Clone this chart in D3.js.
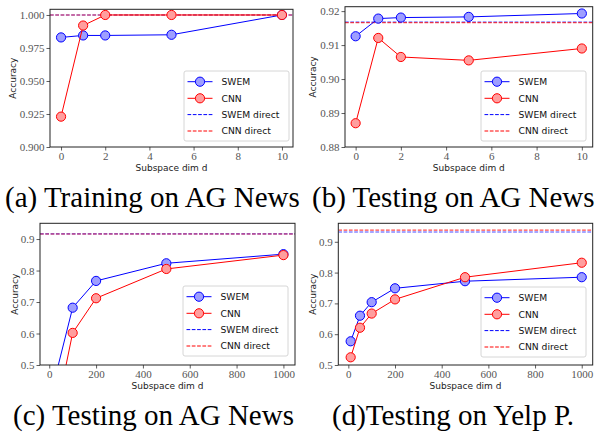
<!DOCTYPE html>
<html><head><meta charset="utf-8">
<script src="https://cdn.jsdelivr.net/npm/d3@7"></script>
<style>body{margin:0;background:#fff}svg{display:block}
.serif{font-family:"Liberation Serif","Times New Roman",Times,serif}
.sans{font-family:"DejaVu Sans",sans-serif}
</style>
</head><body>
<svg id="c" width="595" height="437"></svg>
<script>
// ---- data ----
const dimsAB = [0, 1, 2, 5, 10];
const swemA = [0.983, 0.9845, 0.9845, 0.985, 1.0];
const cnnA = [0.923, 0.992, 1.0, 1.0, 1.0];
const swemDirectA = 1.0, cnnDirectA = 1.0;

const swemB = [0.9126, 0.9178, 0.9181, 0.9183, 0.9193];
const cnnB = [0.887, 0.9121, 0.9065, 0.9055, 0.9090];
const swemDirectB = 0.9168, cnnDirectB = 0.9166;

const dimsC = [10, 100, 200, 500, 1000];
const swemC = [0.415, 0.682, 0.767, 0.823, 0.852];
const cnnC = [0.276, 0.602, 0.712, 0.805, 0.849];
const swemDirectC = 0.9165, cnnDirectC = 0.9162;

const dimsD = [10, 50, 100, 200, 500, 1000];
const swemD = [0.577, 0.660, 0.704, 0.749, 0.772, 0.785];
const cnnD = [0.525, 0.621, 0.667, 0.713, 0.785, 0.832];
const swemDirectD = 0.932, cnnDirectD = 0.938;

const ticksX_AB = [0, 2, 4, 6, 8, 10];
const ticksX_CD = [0, 200, 400, 600, 800, 1000];
const ticksY_A = [0.900, 0.925, 0.950, 0.975, 1.000];
const ticksY_B = [0.88, 0.89, 0.90, 0.91, 0.92];
const ticksY_CD = [0.5, 0.6, 0.7, 0.8, 0.9];
const legendLabels = ["SWEM", "CNN", "SWEM direct", "CNN direct"];
const captions = ["(a) Training on AG News", "(b) Testing on AG News", "(c) Testing on AG News", "(d)Testing on Yelp P."];

// ---- layout ----
const panels = [
  {box:[50,9.3,293,147], xd:[-0.5,10.5], yd:[0.9,1.0043], xt:ticksX_AB, yt:ticksY_A, yf:".3f",
   x:dimsAB, swem:swemA, cnn:cnnA, sd:swemDirectA, cd:cnnDirectA, leg:[184,71], ylabX:13, cap:[5,207]},
  {box:[345,6.7,592.7,147], xd:[-0.47,10.48], yd:[0.88,0.9213], xt:ticksX_AB, yt:ticksY_B, yf:".2f",
   x:dimsAB, swem:swemB, cnn:cnnB, sd:swemDirectB, cd:cnnDirectB, leg:[481,71], ylabX:313, cap:[312,207]},
  {box:[40,223.3,295,365], xd:[-39.5,1049.5], yd:[0.5,0.95], xt:ticksX_CD, yt:ticksY_CD, yf:".1f",
   x:dimsC, swem:swemC, cnn:cnnC, sd:swemDirectC, cd:cnnDirectC, leg:[183,286], ylabX:15, cap:[13,425]},
  {box:[338.3,223.3,592.7,365], xd:[-43,1047], yd:[0.5,0.96], xt:ticksX_CD, yt:ticksY_CD, yf:".1f",
   x:dimsD, swem:swemD, cnn:cnnD, sd:swemDirectD, cd:cnnDirectD, leg:[481,287], ylabX:313, cap:[332,425]}
];

const svg = d3.select("#c");
const BLUE = "#0000ff", RED = "#ff0000", BFILL = "#9e9eff", RFILL = "#ff9e9e";

panels.forEach((p, i) => {
  const [x0, y0, x1, y1] = p.box;
  const xs = d3.scaleLinear().domain(p.xd).range([x0, x1]);
  const ys = d3.scaleLinear().domain(p.yd).range([y1, y0]);
  const g = svg.append("g");
  const clipId = "clip" + i;
  svg.append("clipPath").attr("id", clipId).append("rect")
    .attr("x", x0).attr("y", y0).attr("width", x1 - x0).attr("height", y1 - y0);
  const plot = g.append("g").attr("clip-path", `url(#${clipId})`);

  // direct lines
  plot.append("line").attr("x1", x0).attr("x2", x1).attr("y1", ys(p.sd)).attr("y2", ys(p.sd))
    .attr("stroke", BLUE).attr("stroke-width", 1.1).attr("stroke-dasharray", "3.7,1.6").attr("opacity", 0.7);
  plot.append("line").attr("x1", x0).attr("x2", x1).attr("y1", ys(p.cd)).attr("y2", ys(p.cd))
    .attr("stroke", RED).attr("stroke-width", 1.1).attr("stroke-dasharray", "3.7,1.6").attr("opacity", 0.7);

  const line = d3.line().x(d => xs(d[0])).y(d => ys(d[1]));
  [[p.swem, BLUE, BFILL], [p.cnn, RED, RFILL]].forEach(([vals, col, fill]) => {
    const pts = p.x.map((d, k) => [d, vals[k]]);
    plot.append("path").attr("d", line(pts)).attr("fill", "none").attr("stroke", col).attr("stroke-width", 1);
    plot.selectAll(null).data(pts).enter().append("circle")
      .attr("cx", d => xs(d[0])).attr("cy", d => ys(d[1])).attr("r", 4.6)
      .attr("fill", fill).attr("stroke", col).attr("stroke-width", 1);
  });

  // axes
  const ax = g.append("g").attr("transform", `translate(0,${y1})`)
    .call(d3.axisBottom(xs).tickValues(p.xt).tickSize(3.5).tickPadding(2).tickFormat(d3.format("d")));
  const ay = g.append("g").attr("transform", `translate(${x0},0)`)
    .call(d3.axisLeft(ys).tickValues(p.yt).tickSize(3.5).tickPadding(2).tickFormat(d3.format(p.yf)));
  [ax, ay].forEach(a => {
    a.select(".domain").remove();
    a.attr("font-family", null).attr("font-size", null);
    a.selectAll("line").attr("stroke", "#333").attr("stroke-width", 0.8);
    a.selectAll("text").attr("class", "serif").style("font-size", "11px").attr("fill", "#555");
  });
  g.append("rect").attr("x", x0).attr("y", y0).attr("width", x1 - x0).attr("height", y1 - y0)
    .attr("fill", "none").attr("stroke", "#222").attr("stroke-width", 1);

  // labels
  g.append("text").attr("class", "sans").attr("x", (x0 + x1) / 2).attr("y", y1 + 24).attr("text-anchor", "middle")
    .style("font-size", "9px").attr("fill", "#222").text("Subspace dim d");
  g.append("text").attr("class", "sans").attr("transform", `translate(${p.ylabX + 3},${(y0 + y1) / 2}) rotate(-90)`)
    .attr("text-anchor", "middle").style("font-size", "9px").attr("fill", "#222").text("Accuracy");

  // legend
  const [lx, ly] = p.leg;
  const lg = g.append("g").attr("transform", `translate(${lx},${ly})`);
  lg.append("rect").attr("x", 0).attr("y", 0).attr("width", 105).attr("height", 70).attr("rx", 2)
    .attr("fill", "#fff").attr("fill-opacity", 0.85).attr("stroke", "#ccc").attr("stroke-width", 0.8);
  const rowsY = [10.7, 27.3, 43.6, 60];
  legendLabels.forEach((lab, k) => {
    const col = (k % 2 === 0) ? BLUE : RED;
    const yy = rowsY[k];
    const ln = lg.append("line").attr("x1", 3.5).attr("x2", 28.5).attr("y1", yy).attr("y2", yy)
      .attr("stroke", col).attr("stroke-width", 1);
    if (k >= 2) ln.attr("stroke-dasharray", "3.7,1.6");
    else lg.append("circle").attr("cx", 16).attr("cy", yy).attr("r", 4.6)
      .attr("fill", k === 0 ? BFILL : RFILL).attr("stroke", col).attr("stroke-width", 1);
    lg.append("text").attr("class", "sans").attr("x", 37.5).attr("y", yy + 3.3)
      .style("font-size", "9.2px").attr("fill", "#111").text(lab);
  });

  // caption
  svg.append("text").attr("class", "serif").attr("x", p.cap[0]).attr("y", p.cap[1])
    .style("font-size", "29px").attr("fill", "#000").text(captions[i]);
});
</script>
</body></html>
